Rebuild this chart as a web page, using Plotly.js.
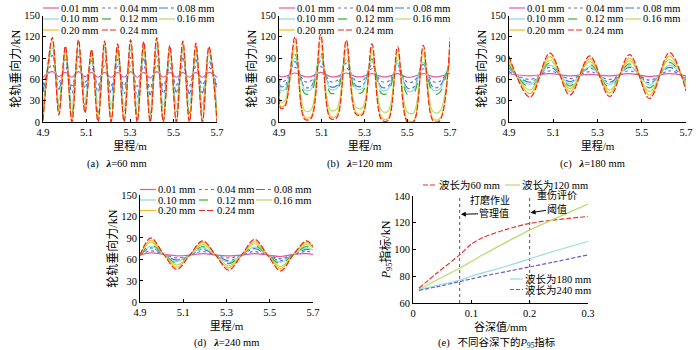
<!DOCTYPE html>
<html><head><meta charset="utf-8">
<script src="https://cdn.plot.ly/plotly-3.0.1.min.js"></script>
<style>html,body{margin:0;padding:0;background:#fff}#chart{width:700px;height:350px}</style>
</head><body><div id="chart"></div>
<script>
// ---------------- DATA ----------------
const depthLabels = ['0.01 mm','0.04 mm','0.08 mm','0.10 mm','0.12 mm','0.16 mm','0.20 mm','0.24 mm'];
const captionsTop = ['60 mm','120 mm','180 mm','240 mm'];

// (a) wavelength 60 mm
const xA = [4.9,4.943,4.973,5.003,5.033,5.063,5.093,5.123,5.153,5.183,5.213,5.243,5.273,5.303,5.333,5.363,5.393,5.423,5.453,5.483,5.513,5.543,5.573,5.603,5.633,5.663,5.7];
const a001 = [63,71,64,70,63,71,64,70,63,70,63,70,63,71,63,70,62,71,63,70,63,70,63,70,63,70,63];
const a004 = [52,81,56,78,51,80,56,77,52,79,51,78,51,80,50,79,48,81,51,77,52,79,51,78,52,77,52];
const a008 = [42,94,46,88,41,92,47,86,42,90,41,88,40,91,35,89,38,93,40,87,42,90,40,88,41,86,43];
const a010 = [22,104,30,96,24,101,32,93,25,100,24,97,24,101,23,99,22,104,24,96,25,100,24,98,25,95,22];
const a012 = [12,110,22,100,12,107,24,97,13,105,12,102,12,107,11,105,10,110,12,101,12,106,12,103,13,100,14];
const a016 = [6,114,16,103,3,111,18,99,4,109,2,105,3,111,2,108,0,114,3,104,2,109,3,106,4,103,6];
const a020 = [3,117,12,105,0,114,14,101,0,112,0,108,0,114,0,111,0,117,0,106,0,112,0,109,0,105,0];
const a024 = [2,119,10,107,0,116,13,102,0,114,0,110,0,116,0,113,0,119,0,108,0,114,0,111,0,106,0];

// (b) wavelength 120 mm
const xB = [4.9,4.908,4.928,4.975,5.02,5.05,5.095,5.14,5.17,5.215,5.26,5.29,5.335,5.38,5.41,5.455,5.5,5.53,5.575,5.62,5.65,5.7];
const b001 = [65,64,64,69,64,64,70,64,64,69,64,64,68,64,64,68,63,64,68,64,64,69];
const b004 = [61,57,58,77,57,58,78,57,58,76,58,58,75,57,57,74,56,57,75,57,57,76];
const b008 = [58,50,51,85,49,50,86,50,51,83,51,51,81,49,50,80,48,49,81,49,50,84];
const b010 = [56,45,46,90,45,46,92,46,47,88,47,47,85,45,46,83,44,45,84,45,46,88];
const b012 = [54,40,41,95,40,41,97,41,42,93,42,42,89,40,41,87,39,40,88,40,41,93];
const b016 = [50,28,30,105,16,17,108,17,18,102,21,20,97,16,15,94,14,13,96,15,14,103];
const b020 = [47,22,24,114,7,8,117,8,9,110,13,12,105,6,5,101,3,2,103,5,4,112];
const b024 = [45,19,22,120,4,5,123,5,6,115,11,10,110,3,2,106,0,0,108,2,1,118];

// (c) wavelength 180 mm
const xC = [4.9,4.995,5.085,5.175,5.265,5.355,5.445,5.535,5.625,5.7];
const c001 = [68,65,68,65,67,65,68,64,68,65];
const c004 = [71,60,72,61,71,60,72,59,72,62];
const c008 = [76,56,77,57,76,56,77,55,77,59];
const c010 = [78,53,80,54,78,53,79,52,80,57];
const c012 = [81,49,83,51,81,49,82,48,84,54];
const c016 = [85,45,87,47,85,45,86,43,88,51];
const c020 = [89,40,92,43,89,41,90,38,93,48];
const c024 = [93,35,97,38,93,36,95,33,98,44];

// (d) wavelength 240 mm
const xD = [4.9,4.95,5.01,5.07,5.13,5.19,5.25,5.31,5.37,5.43,5.49,5.55,5.61,5.67,5.7];
const d001 = [66,69,67,65,66,68,66,65,66,68,66,64,67,68,67];
const d004 = [66,72,67,62,66,71,66,62,66,71,66,61,67,71,70];
const d008 = [66,76,67,59,66,74,66,58,66,75,66,58,67,74,72];
const d010 = [66,78,67,57,66,76,66,56,66,77,66,56,67,76,73];
const d012 = [66,80,67,55,66,78,66,54,66,79,66,54,67,78,74];
const d016 = [66,84,67,52,66,81,66,51,66,82,66,50,67,81,76];
const d020 = [66,87,67,49,66,84,66,48,66,85,66,47,67,84,77];
const d024 = [66,90,67,46,66,86,66,45,66,88,66,44,67,86,78];

// (e) P95 index vs valley depth
const depthE = [0.01,0.04,0.08,0.10,0.12,0.16,0.20,0.24,0.30];
const p95w60 = [71,82,96,104,109,115,119.5,122,124.7];
const p95w120 = [70,77,86,91,96,105.5,114.5,122.5,134];
const p95w180 = [70,73,77,80,82.5,87.5,93,98.5,106];
const p95w240 = [69.5,72,76,78,80,83.5,87,90.5,96];
const wavelengthLabels = ['波长为60 mm','波长为120 mm','波长为180 mm','波长为240 mm'];
const thresholdDepths = [0.08, 0.20];
const thresholdSpan = [60, 140];

// ---------------- STYLE ----------------
const W = 700, H = 350;
const FONT = "'Liberation Serif','Times New Roman','Noto Sans CJK SC',serif";
const PX = v => v / W;
const PY = v => 1 - v / H;
const depthColors = ['#E8579C','#6E6ED6','#3A78D4','#8FD8D8','#34B034','#B6DB62','#F7BD1A','#EE2626'];
const depthDash = ['solid','dot','dashdot','solid','dash','solid','solid','6px,2px'];
const eColors = ['#EE3030','#B8DB6B','#96DCDC','#6A5ACD'];
const eDash = ['5px,2px','solid','solid','4px,2px'];

const boxes = [
  {xl:43, xr:217, yt:15.5, yb:122},
  {xl:279, xr:450, yt:15.5, yb:122},
  {xl:509, xr:686, yt:15.5, yb:122},
  {xl:140, xr:313, yt:195, yb:302.3},
  {xl:413, xr:588, yt:196, yb:303}
];
const sfx = i => (i === 0 ? '' : String(i + 1));

const topPanels = [
  {x:xA, ys:[a001,a004,a008,a010,a012,a016,a020,a024]},
  {x:xB, ys:[b001,b004,b008,b010,b012,b016,b020,b024]},
  {x:xC, ys:[c001,c004,c008,c010,c012,c016,c020,c024]},
  {x:xD, ys:[d001,d004,d008,d010,d012,d016,d020,d024]}
];

const traces = [];
topPanels.forEach((p, i) => {
  p.ys.forEach((ys, k) => {
    traces.push({
      type:'scatter', mode:'lines', x:p.x, y:ys, name:depthLabels[k],
      xaxis:'x'+sfx(i), yaxis:'y'+sfx(i), showlegend:false, hoverinfo:'skip',
      line:{shape:'spline', smoothing:1, width:1.2, color:depthColors[k], dash:depthDash[k]}
    });
  });
});
thresholdDepths.forEach(t => {
  traces.push({type:'scatter', mode:'lines', x:[t,t], y:thresholdSpan, xaxis:'x5', yaxis:'y5',
    showlegend:false, hoverinfo:'skip', line:{color:'#555', width:1, dash:'dot'}});
});
[p95w60,p95w120,p95w180,p95w240].forEach((ys, k) => {
  traces.push({type:'scatter', mode:'lines', x:depthE, y:ys, name:wavelengthLabels[k],
    xaxis:'x5', yaxis:'y5', showlegend:false, hoverinfo:'skip',
    line:{shape:'spline', smoothing:0.8, width:1.2, color:eColors[k], dash:eDash[k]}});
});

const tickFont = {family:FONT, size:10.5, color:'#000'};
const titleFont = {family:FONT, size:11, color:'#000'};
function axisBase() {
  return {ticks:'inside', ticklen:3, tickwidth:1, tickcolor:'#000', showline:true, linecolor:'#000',
    linewidth:1, mirror:false, showgrid:false, zeroline:false, tickfont:tickFont, fixedrange:true};
}
const layout = {
  width:W, height:H, margin:{l:0,r:0,t:0,b:0}, paper_bgcolor:'#fff', plot_bgcolor:'rgba(0,0,0,0)',
  showlegend:false, font:{family:FONT, size:10.5, color:'#000'}, shapes:[], annotations:[]
};
boxes.forEach((b, i) => {
  const s = sfx(i);
  const xa = axisBase(), ya = axisBase();
  xa.domain = [PX(b.xl), PX(b.xr)]; xa.anchor = 'y'+s;
  ya.domain = [PY(b.yb), PY(b.yt)]; ya.anchor = 'x'+s;
  if (i < 4) {
    xa.range = [4.9, 5.7]; xa.tickvals = [4.9,5.1,5.3,5.5,5.7]; xa.ticktext = ['4.9','5.1','5.3','5.5','5.7'];
    ya.range = [0, 150]; ya.tickvals = [0,30,60,90,120,150];
    xa.title = {text:'里程/m', font:titleFont, standoff:5};
    ya.title = {text:'轮轨垂向力/kN', font:{family:FONT, size:12, color:'#000'}, standoff:0};
  } else {
    xa.range = [0, 0.3]; xa.tickvals = [0,0.1,0.2,0.3]; xa.ticktext = ['0','0.1','0.2','0.3'];
    ya.range = [60, 140]; ya.tickvals = [60,80,100,120,140];
    xa.title = {text:'谷深值/mm', font:titleFont, standoff:5};
    ya.title = {text:'<i>P</i><sub>95</sub>指标/kN', font:{family:FONT, size:12, color:'#000'}, standoff:0};
  }
  layout['xaxis'+s] = xa; layout['yaxis'+s] = ya;
});

// manual legends for panels a-d
const legendCols = [{l0:0,l1:16,t:17},{l0:59,l1:75,t:76},{l0:116,l1:132,t:133}];
const legendRowsTop = [8,19,30];
const legendRowsBottom = [189.5,200,210.5];
boxes.slice(0,4).forEach((b, i) => {
  const rows = i < 3 ? legendRowsTop : legendRowsBottom;
  depthLabels.forEach((lab, k) => {
    const c = legendCols[k % 3], yy = rows[Math.floor(k / 3)];
    layout.shapes.push({type:'line', xref:'paper', yref:'paper', x0:PX(b.xl + c.l0), x1:PX(b.xl + c.l1),
      y0:PY(yy), y1:PY(yy), line:{color:depthColors[k], width:1.2, dash:depthDash[k]}});
    layout.annotations.push({xref:'paper', yref:'paper', x:PX(b.xl + c.t), y:PY(yy), xanchor:'left', yanchor:'middle',
      text:lab, showarrow:false, font:{family:FONT, size:10.5, color:'#000'}, borderpad:0});
  });
});
// legend for panel e
const eLegend = [{l0:423,l1:437,t:438,y:185},{l0:505,l1:520,t:521,y:185},{l0:510,l1:523,t:524,y:279},{l0:510,l1:523,t:524,y:289.5}];
eLegend.forEach((g, k) => {
  layout.shapes.push({type:'line', xref:'paper', yref:'paper', x0:PX(g.l0), x1:PX(g.l1), y0:PY(g.y), y1:PY(g.y),
    line:{color:eColors[k], width:1.2, dash:eDash[k]}});
  layout.annotations.push({xref:'paper', yref:'paper', x:PX(g.t), y:PY(g.y), xanchor:'left', yanchor:'middle',
    text:wavelengthLabels[k], showarrow:false, font:{family:FONT, size:10.5, color:'#000'}, borderpad:0});
});
// captions
const caps = [
  {x:117, y:164, t:'(a)\u00a0\u00a0\u00a0<b><i>λ</i></b>=' + captionsTop[0]},
  {x:360, y:164, t:'(b)\u00a0\u00a0\u00a0<b><i>λ</i></b>=' + captionsTop[1]},
  {x:592, y:164, t:'(c)\u00a0\u00a0\u00a0<b><i>λ</i></b>=' + captionsTop[2]},
  {x:226, y:343, t:'(d)\u00a0\u00a0\u00a0<b><i>λ</i></b>=' + captionsTop[3]},
  {x:497, y:343, t:'(e)\u00a0\u00a0\u00a0不同谷深下的<i>P</i><sub>95</sub>指标'}
];
caps.forEach(c => layout.annotations.push({xref:'paper', yref:'paper', x:PX(c.x), y:PY(c.y), xanchor:'center', yanchor:'middle',
  text:c.t, showarrow:false, font:{family:FONT, size:10.5, color:'#000'}}));
// threshold notes in panel e (second line of each note carries the arrow)
const noteFont = {family:FONT, size:10, color:'#000'};
layout.annotations.push({xref:'paper', yref:'paper', x:PX(490), y:PY(200), xanchor:'center', yanchor:'middle',
  text:'打磨作业', showarrow:false, font:noteFont, borderpad:0});
layout.annotations.push({xref:'paper', yref:'paper', x:PX(556.5), y:PY(195), xanchor:'center', yanchor:'middle',
  text:'重伤评价', showarrow:false, font:noteFont, borderpad:0});
const arrowNotes = [
  {t:'管理值', x:0.082, y:126.3, ax:0.138, ay:127},
  {t:'阈值', x:0.2015, y:127.5, ax:0.246, ay:130.5}
];
arrowNotes.forEach(a => layout.annotations.push({xref:'x5', yref:'y5', axref:'x5', ayref:'y5', x:a.x, y:a.y, ax:a.ax, ay:a.ay,
  text:a.t, font:noteFont, borderpad:0, showarrow:true, arrowhead:2, arrowsize:1, arrowwidth:1, arrowcolor:'#000'}));

Plotly.newPlot('chart', traces, layout, {staticPlot:true, displayModeBar:false});
</script>
</body></html>
